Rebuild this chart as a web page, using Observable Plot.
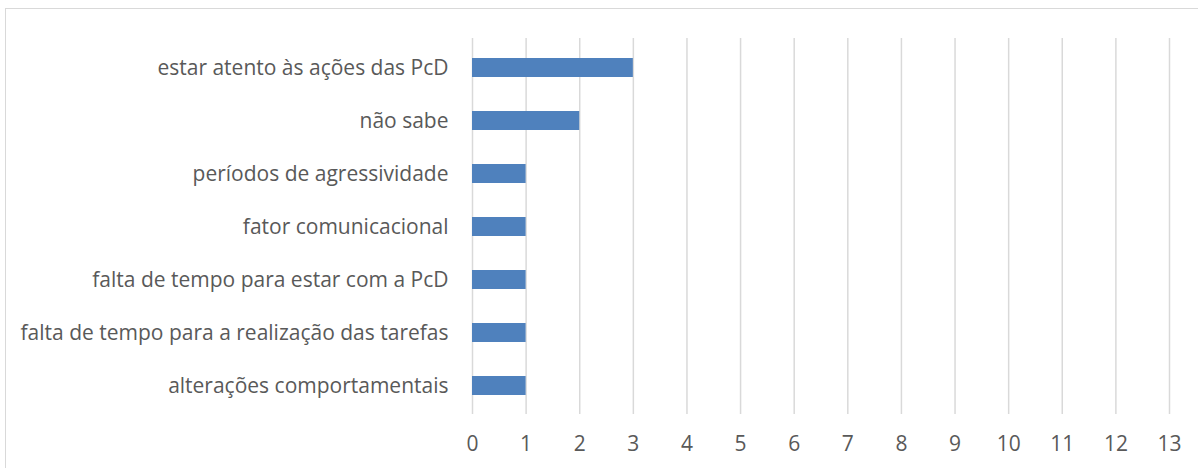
<!DOCTYPE html>
<html>
<head>
<meta charset="utf-8">
<script src="https://cdn.jsdelivr.net/npm/d3@7"></script>
<script src="https://cdn.jsdelivr.net/npm/@observablehq/plot@0.6"></script>
<style>
  html, body { margin: 0; padding: 0; background: #fff; overflow: hidden; }
  #wrap { position: relative; width: 1198px; height: 468px; }
  #border { position: absolute; left: 5px; top: 8px; width: 1200px; height: 470px; border: 1px solid #d9d9d9; box-sizing: border-box; }
  #chart { position: absolute; left: 0; top: 0; }
</style>
</head>
<body>
<div id="wrap"><div id="border"></div><div id="chart"></div></div>
<script>
const categories = [
  "estar atento às ações das PcD",
  "não sabe",
  "períodos de agressividade",
  "fator comunicacional",
  "falta de tempo para estar com a PcD",
  "falta de tempo para a realização das tarefas",
  "alterações comportamentais"
];
const values = [3, 2, 1, 1, 1, 1, 1];
const xTicks = [0, 1, 2, 3, 4, 5, 6, 7, 8, 9, 10, 11, 12, 13];

const data = categories.map((c, i) => ({category: c, value: values[i]}));

const chart = Plot.plot({
  width: 1198,
  height: 468,
  marginLeft: 472,
  marginRight: 29,
  marginTop: 38,
  marginBottom: 54,
  style: {fontFamily: "'Open Sans', sans-serif", fontSize: "21px", color: "#595959", background: "transparent"},
  x: {domain: [0, 13], ticks: xTicks, label: null, tickSize: 0, tickPadding: 22},
  y: {domain: categories, label: null, tickSize: 0, tickPadding: 24, paddingInner: 0.65, paddingOuter: 0.325},
  marks: [
    Plot.ruleX(xTicks, {stroke: "#d9d9d9", strokeWidth: 1.5, strokeOpacity: 1}),
    Plot.barX(data, {x: "value", y: "category", fill: "#4F81BD"})
  ]
});
document.getElementById("chart").appendChild(chart);
</script>
</body>
</html>
